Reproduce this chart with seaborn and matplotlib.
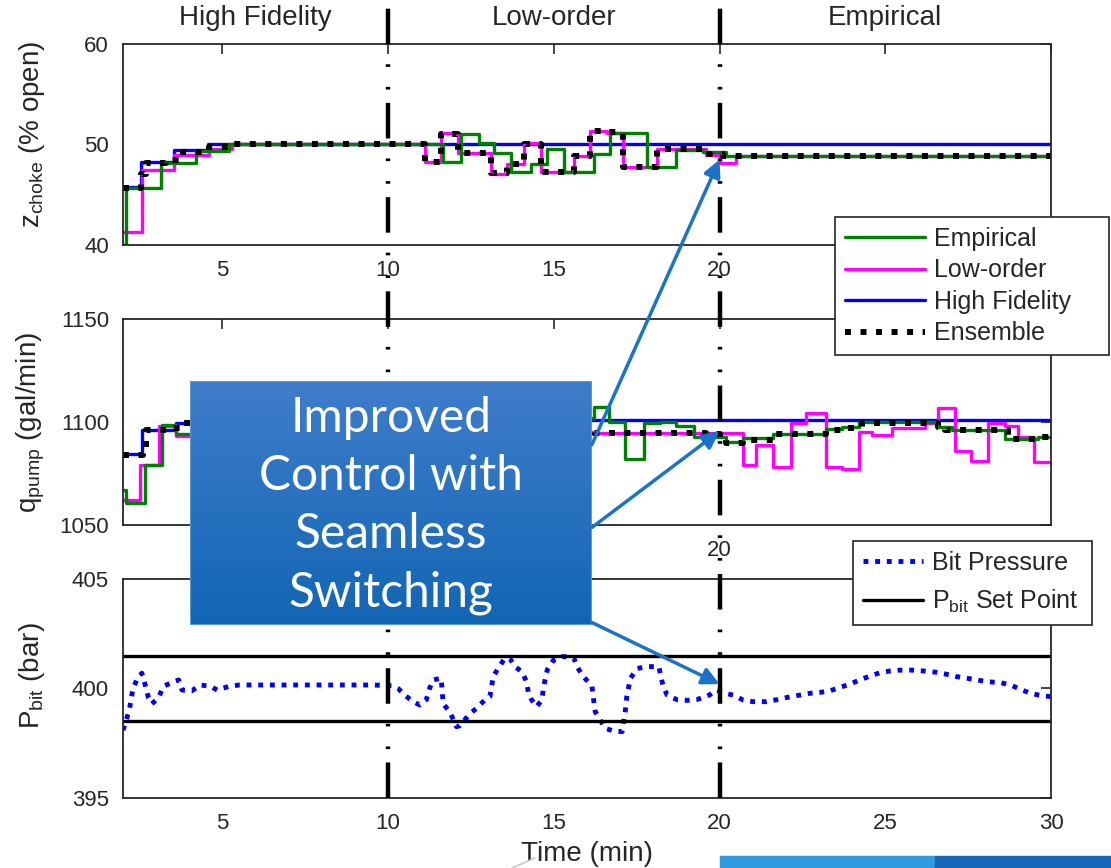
import numpy as np
import pandas as pd
import matplotlib
matplotlib.use("Agg")
from matplotlib import pyplot as plt
from matplotlib import transforms
from matplotlib.colors import LinearSegmentedColormap
from matplotlib.lines import Line2D
from matplotlib.patches import Rectangle
import seaborn as sns

# choke opening, step changes (time in min, value in % open)
hf_z_t = [2.0, 2.55, 3.55, 4.55]
hf_z = [45.8, 48.3, 49.45, 50.0]
emp_z_t = [2.0, 2.1, 3.15, 4.2, 5.2, 11.65, 12.2, 12.75, 13.2, 13.7, 14.3, 14.8, 15.3,
           16.2, 16.7, 17.8, 18.7, 19.5, 20.2]
emp_z = [40.0, 45.7, 48.2, 49.4, 50.0, 48.3, 51.05, 50.1, 49.2, 47.3, 48.1, 49.6, 47.3,
         49.1, 51.1, 47.8, 49.5, 49.3, 48.9]
low_z_t = [2.0, 2.58, 3.55, 4.6, 5.3, 11.1, 11.6, 12.1, 13.1, 13.6, 14.1, 14.6, 15.6,
           16.1, 16.6, 17.1, 18.1, 19.6, 20.0, 20.5]
low_z = [41.3, 47.5, 49.0, 49.6, 50.0, 48.3, 51.1, 49.2, 47.1, 48.1, 50.1, 47.3, 48.9,
         51.3, 51.1, 47.8, 49.6, 49.0, 48.2, 48.9]
ens_z_t = [2.0, 2.55, 2.7, 3.3, 3.8, 4.6, 5.2, 11.1, 11.6, 12.1, 13.1, 13.6, 14.1, 14.6,
           15.6, 16.1, 16.6, 17.1, 18.1, 19.6, 20.1]
ens_z = [45.7, 47.1, 48.2, 48.5, 49.3, 49.8, 50.0, 48.3, 51.0, 49.2, 47.2, 48.1, 50.0,
         47.3, 48.9, 51.3, 51.2, 47.8, 49.6, 49.1, 48.9]

# pump rate, step changes (gal/min)
hf_q_t = [2.0, 2.57, 3.6, 5.0]
hf_q = [1084.5, 1096.0, 1099.5, 1101.0]
emp_q_t = [2.0, 2.1, 2.67, 3.17, 3.6, 4.2, 6.0, 8.0, 11.7, 12.7, 13.7, 14.7, 16.2, 16.66,
           17.16, 17.72, 18.2, 18.7, 19.23, 20.19, 20.7, 21.6, 23.2, 23.7, 24.2, 26.6,
           27.0, 28.6, 29.6]
emp_q = [1067.0, 1060.5, 1079.0, 1098.5, 1094.0, 1097.0, 1099.0, 1100.0, 1096.0, 1090.0,
         1095.0, 1102.0, 1107.4, 1100.2, 1082.0, 1099.4, 1100.2, 1098.3, 1092.9, 1090.5,
         1092.2, 1094.0, 1096.5, 1097.5, 1099.9, 1097.7, 1096.2, 1091.8, 1092.9]
low_q_t = [2.0, 2.5, 3.1, 3.6, 5.0, 11.1, 12.1, 13.1, 14.1, 15.1, 16.2, 20.0, 20.7, 21.1,
           21.6, 22.15, 22.6, 23.2, 23.7, 24.2, 24.6, 25.2, 26.2, 26.6, 27.1, 27.6, 28.1,
           28.6, 29.0, 29.5]
low_q = [1062.0, 1079.0, 1098.0, 1093.0, 1100.0, 1097.0, 1093.0, 1096.0, 1091.0, 1095.0,
         1094.5, 1094.6, 1079.1, 1088.8, 1078.0, 1099.7, 1104.5, 1078.0, 1077.4, 1095.3,
         1093.7, 1097.2, 1099.7, 1106.9, 1086.1, 1081.2, 1099.7, 1098.2, 1092.5, 1080.7]
ens_q_t = [2.0, 2.6, 2.7, 3.4, 3.8, 10.1, 11.1, 12.1, 16.2, 19.6, 20.0, 20.2, 20.7, 21.7,
           23.2, 23.7, 24.3, 26.6, 26.8, 28.7, 29.7]
ens_q = [1084.0, 1088.0, 1096.0, 1097.0, 1099.5, 1099.0, 1097.0, 1095.0, 1094.5, 1094.0,
         1092.1, 1089.6, 1091.3, 1094.0, 1096.1, 1097.2, 1099.7, 1097.7, 1096.1, 1091.7,
         1092.9]

# bit pressure (bar)
pbit_t = [2.0, 2.1, 2.2, 2.3, 2.46, 2.57, 2.67, 2.77, 2.87, 3.07, 3.22, 3.47, 3.68, 3.78,
          4.08, 4.33, 4.64, 4.84, 5.2, 5.5, 6.5, 7.5, 8.5, 9.5, 10.1, 10.3, 10.5, 10.75,
          10.95, 11.15, 11.25, 11.35, 11.6, 11.66, 11.86, 12.06, 12.16, 12.3, 12.46, 12.67,
          12.92, 13.07, 13.17, 13.32, 13.52, 13.67, 13.83, 14.03, 14.18, 14.23, 14.33,
          14.48, 14.64, 14.69, 14.8, 14.99, 15.24, 15.45, 15.6, 15.7, 15.85, 16.0, 16.15,
          16.2, 16.25, 16.4, 16.55, 16.8, 17.06, 17.16, 17.2, 17.31, 17.52, 17.87, 18.17,
          18.22, 18.3, 18.42, 18.73, 19.03, 19.33, 19.69, 19.89, 20.04, 20.19, 20.45,
          20.7, 21.0, 21.4, 21.7, 22.0, 22.42, 22.72, 23.02, 23.32, 23.63, 23.93, 24.23,
          24.54, 24.84, 25.14, 25.45, 25.8, 26.15, 26.55, 26.85, 27.16, 27.46, 27.77,
          28.07, 28.47, 28.78, 29.08, 29.38, 29.69, 29.99]
pbit = [398.1, 398.56, 399.1, 400.0, 400.54, 400.7, 400.16, 399.57, 399.3, 399.57, 400.1,
        400.27, 400.39, 399.93, 399.9, 400.16, 400.1, 399.93, 400.1, 400.16, 400.16,
        400.16, 400.16, 400.16, 400.13, 400.0, 399.7, 399.4, 399.25, 399.48, 400.0,
        400.39, 400.47, 399.3, 398.94, 398.26, 398.3, 398.55, 398.84, 399.1, 399.48,
        399.63, 400.54, 400.92, 401.38, 401.37, 401.0, 400.77, 400.31, 399.8, 399.48,
        399.17, 399.48, 400.08, 400.85, 401.3, 401.45, 401.45, 401.4, 401.0, 400.62,
        400.36, 400.1, 399.48, 398.94, 398.56, 398.18, 398.06, 398.03, 399.02, 399.63,
        400.47, 400.92, 401.0, 401.0, 400.62, 400.08, 399.7, 399.48, 399.46, 399.5,
        399.7, 399.93, 399.86, 399.78, 399.68, 399.48, 399.4, 399.4, 399.48, 399.58,
        399.7, 399.78, 399.82, 399.89, 400.05, 400.2, 400.39, 400.57, 400.72, 400.8,
        400.84, 400.84, 400.8, 400.74, 400.65, 400.54, 400.47, 400.39, 400.31, 400.27,
        400.16, 399.96, 399.78, 399.68, 399.63]
set_points = [401.5, 398.5]

section_names = ["High Fidelity", "Low-order", "Empirical"]
section_mid = [6, 15, 25]
switch_times = [10, 20]
x_ticks = [5, 10, 15, 20, 25, 30]
# tick labels that the legends / callout cover are left blank
top_xlabels = ["5", "10", "15", "20", "", ""]
mid_xlabels = ["", "", "", "20", "", ""]
bot_xlabels = ["5", "10", "15", "20", "25", "30"]

GREEN, MAGENTA, BLUE = "#008000", "#ff00ff", "#0000ff"
ARROW = "#1a73c6"

sns.set_style("white")
plt.rcParams["font.family"] = ["Liberation Sans", "DejaVu Sans"]
plt.rcParams["mathtext.fontset"] = "custom"
plt.rcParams["mathtext.rm"] = "Liberation Sans"
plt.rcParams["mathtext.it"] = "Liberation Sans:italic"


def steps(t, v):
    # hold last value until the end of the run
    return pd.DataFrame({"t": list(t) + [30.0], "v": list(v) + [v[-1]]})


fig = plt.figure(figsize=(11.11, 8.68), dpi=100)
W, H = 1111, 868


def pos(l, t, r, b):
    return [l / W, 1 - b / H, (r - l) / W, (b - t) / H]


ax1 = fig.add_axes(pos(123, 44, 1051, 245))
ax2 = fig.add_axes(pos(123, 319, 1051, 525))
ax3 = fig.add_axes(pos(123, 579, 1051, 798))

dot_top = (0, (1, 1.6))
for ax, hf, lo, em, en in [
    (ax1, steps(hf_z_t, hf_z), steps(low_z_t, low_z), steps(emp_z_t, emp_z), steps(ens_z_t, ens_z)),
    (ax2, steps(hf_q_t, hf_q), steps(low_q_t, low_q), steps(emp_q_t, emp_q), steps(ens_q_t, ens_q)),
]:
    sns.lineplot(data=hf, x="t", y="v", ax=ax, color=BLUE, lw=2.4, drawstyle="steps-post",
                 label="High Fidelity", legend=False, estimator=None)
    sns.lineplot(data=lo, x="t", y="v", ax=ax, color=MAGENTA, lw=2.4, drawstyle="steps-post",
                 label="Low-order", legend=False, estimator=None)
    sns.lineplot(data=em, x="t", y="v", ax=ax, color=GREEN, lw=2.4, drawstyle="steps-post",
                 label="Empirical", legend=False, estimator=None)
    sns.lineplot(data=en, x="t", y="v", ax=ax, color="black", lw=4.3, ls=dot_top,
                 drawstyle="steps-post", label="Ensemble", legend=False, estimator=None)

pb = pd.DataFrame({"t": pbit_t, "p": pbit})
sns.lineplot(data=pb, x="t", y="p", ax=ax3, color=BLUE, lw=3.5, ls=(0, (1, 1.4)),
             label="Bit Pressure", legend=False, estimator=None)
for sp in set_points:
    ax3.axhline(sp, color="black", lw=2.4)
sp_handle = Line2D([], [], color="black", lw=2.4)

ax1.set_ylim(40, 60)
ax1.set_yticks([40, 50, 60])
ax2.set_ylim(1050, 1150)
ax2.set_yticks([1050, 1100, 1150])
ax3.set_ylim(395, 405)
ax3.set_yticks([395, 400, 405])

ax1.set_ylabel(r"z$_{\mathrm{choke}}$ (% open)", fontsize=20)
ax2.set_ylabel(r"q$_{\mathrm{pump}}$ (gal/min)", fontsize=20)
ax3.set_ylabel(r"P$_{\mathrm{bit}}$ (bar)", fontsize=20)
ax3.set_xlabel("Time (min)", fontsize=20, labelpad=5)
for ax, labs, ly in [(ax1, top_xlabels, 0.55), (ax2, mid_xlabels, 0.5), (ax3, bot_xlabels, 0.56)]:
    ax.set_xlim(2, 30)
    ax.set_xticks(x_ticks)
    ax.set_xticklabels(labs)
    ax.tick_params(direction="in", length=7, width=1.2, top=True, right=True,
                   labelsize=16, pad=10, colors="#262626")
    ax.tick_params(axis="x", pad=11)
    for s in ax.spines.values():
        s.set_color("#262626")
        s.set_linewidth(1.3)
    ax.yaxis.set_label_coords(-0.082, ly)
    if ax is not ax3:
        ax.set_xlabel("")

for name, mid in zip(section_names, section_mid):
    ax1.text(mid, 1.13, name, transform=transforms.blended_transform_factory(ax1.transData, ax1.transAxes),
             ha="center", va="center", fontsize=20)

# mode switch lines run across all panels
blend = transforms.blended_transform_factory(ax3.transData, fig.transFigure)
for st in switch_times:
    fig.add_artist(Line2D([st, st], [1 - 798 / H, 1.0], transform=blend, color="black", lw=3.2,
                          ls=(0, (8, 3, 0.6, 4.5, 0.6, 4.5)), zorder=3))

leg_kw = dict(loc="upper left", mode="expand", fontsize=18, frameon=True, fancybox=False,
              edgecolor="#262626", framealpha=1, borderpad=0.4, handletextpad=0.35,
              borderaxespad=0)
h, l = ax1.get_legend_handles_labels()
order = [l.index(n) for n in ["Empirical", "Low-order", "High Fidelity", "Ensemble"]]
leg1 = fig.legend([h[i] for i in order], [l[i] for i in order],
                  bbox_to_anchor=(835 / W, 1 - 348 / H, 274 / W, 131 / H),
                  handlelength=3.2, labelspacing=0.3, **leg_kw)
h3, l3 = ax3.get_legend_handles_labels()
leg2 = fig.legend([h3[0], sp_handle], ["Bit Pressure", r"P$_{\mathrm{bit}}$ Set Point"],
                  bbox_to_anchor=(853 / W, 1 - 632 / H, 239 / W, 91 / H),
                  handlelength=2.4, labelspacing=0.5, **leg_kw)
for lg in (leg1, leg2):
    lg.get_frame().set_linewidth(1.2)

# callout box
axb = fig.add_axes(pos(190, 381, 592, 625), zorder=10)
grad = LinearSegmentedColormap.from_list("callout", ["#1266b4", "#3f7dca"])
axb.imshow(np.linspace(0, 1, 100).reshape(-1, 1), cmap=grad, aspect="auto",
           extent=[0, 1, 0, 1], origin="lower")
axb.add_patch(Rectangle((0, 0), 1, 1, fill=False, edgecolor="#5b9bd5", lw=1.5,
                        transform=axb.transAxes))
axb.set_xlim(0, 1)
axb.set_ylim(0, 1)
axb.set_axis_off()
axb.text(0.5, 0.49, "Improved\nControl with\nSeamless\nSwitching", color="white",
         ha="center", va="center", fontsize=34.5, family="Lato", linespacing=1.4)

arrow_kw = dict(arrowstyle="-|>", color=ARROW, lw=2.5, mutation_scale=26, shrinkA=0, shrinkB=0)
axb.annotate("", xy=(20, 48.5), xycoords=ax1.transData, xytext=(1.0, 0.74),
             textcoords="axes fraction", arrowprops=arrow_kw)
axb.annotate("", xy=(20, 1095.5), xycoords=ax2.transData, xytext=(1.0, 0.40),
             textcoords="axes fraction", arrowprops=arrow_kw)
axb.annotate("", xy=(20, 400.2), xycoords=ax3.transData, xytext=(1.0, 0.01),
             textcoords="axes fraction", arrowprops=arrow_kw)

# slide decoration cut at the bottom edge
fig.add_artist(Rectangle((720 / W, 0), 215 / W, 12 / H, transform=fig.transFigure,
                         color="#2f9be0", zorder=1))
fig.add_artist(Rectangle((935 / W, 0), 176 / W, 12 / H, transform=fig.transFigure,
                         color="#1565b8", zorder=1))
fig.add_artist(Line2D([512 / W, 535 / W], [0, 10 / H], transform=fig.transFigure,
                      color="#c8c8c8", lw=1.2))

fig.savefig("out.png", dpi=100)
